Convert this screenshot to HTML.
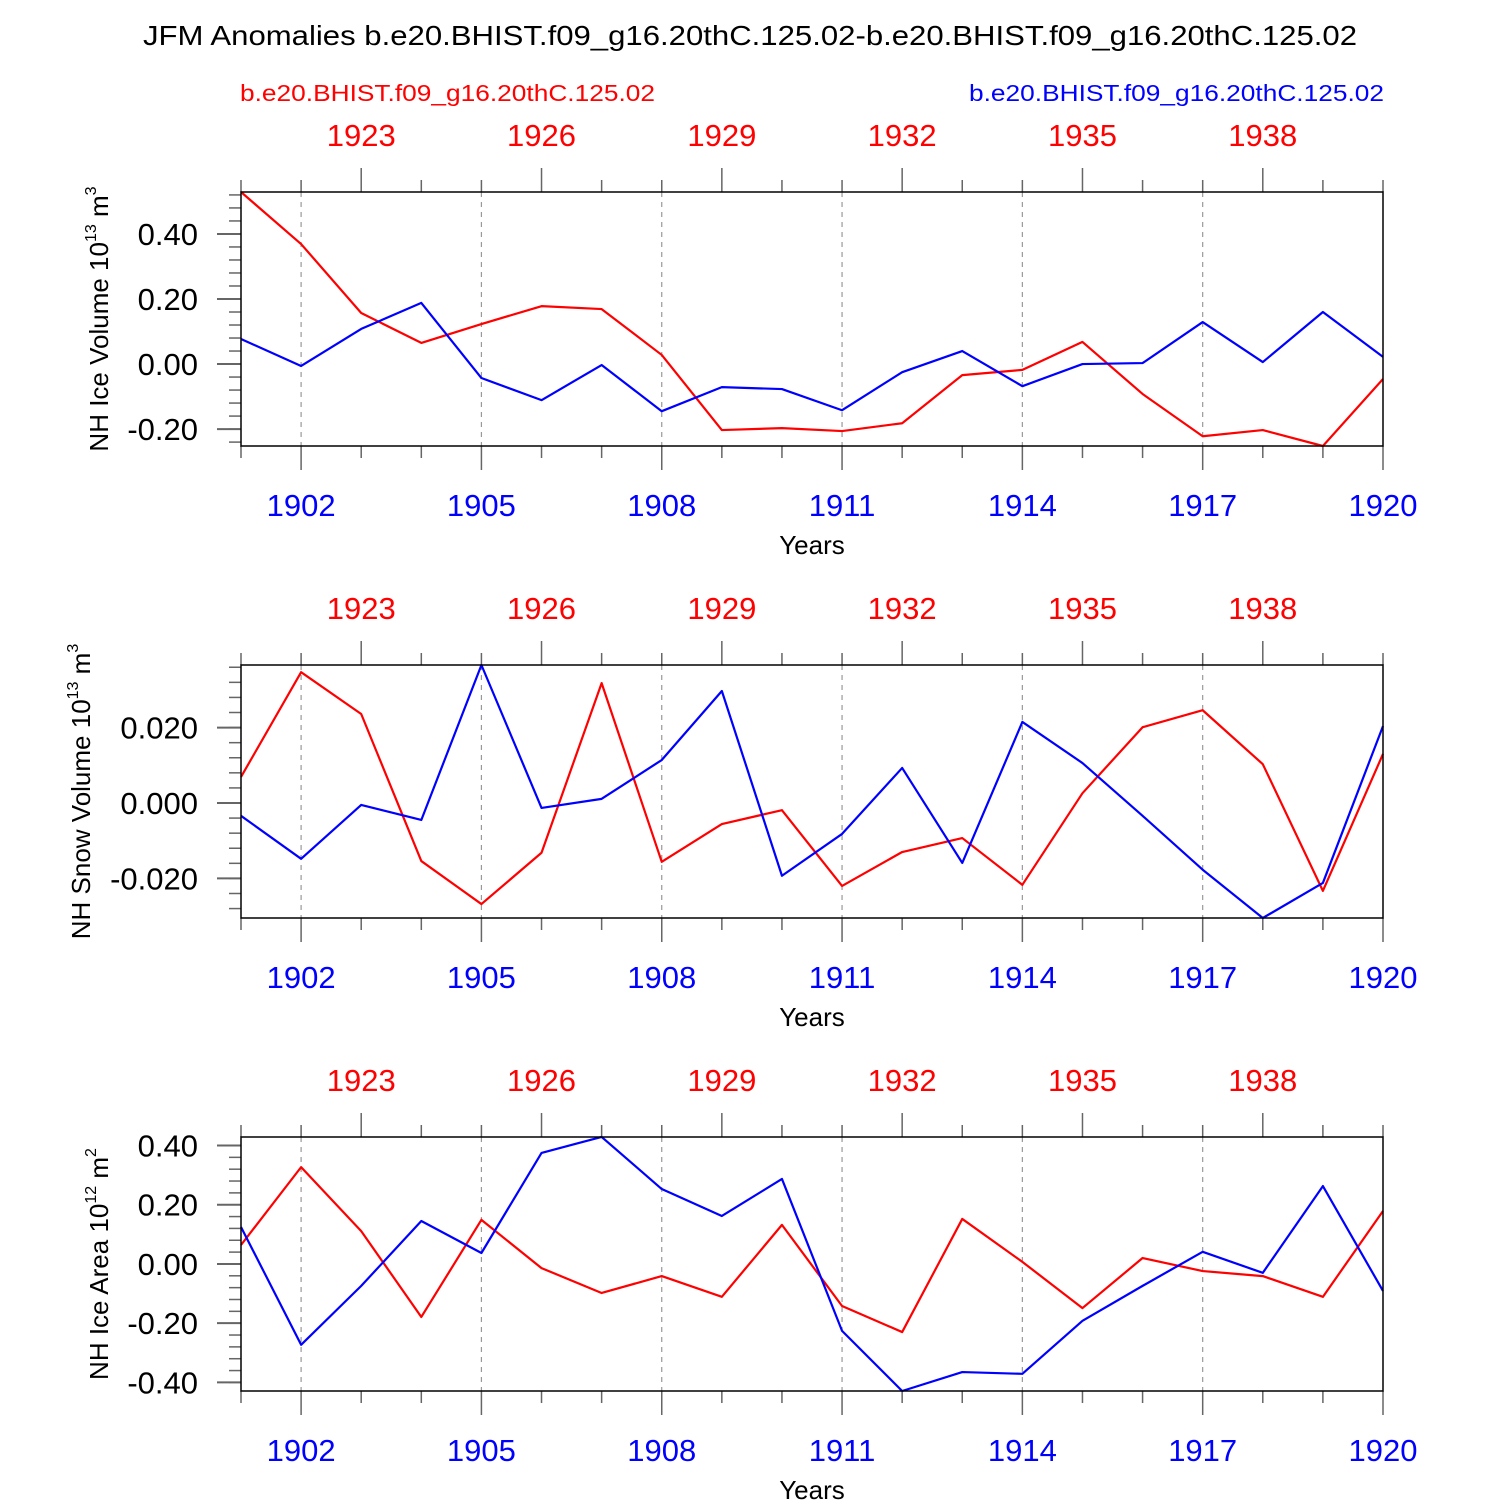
<!DOCTYPE html>
<html><head><meta charset="utf-8"><style>body{margin:0;background:#fff}svg{display:block}</style></head>
<body>
<svg id="chart" width="1500" height="1500" xmlns="http://www.w3.org/2000/svg" font-family="Liberation Sans, sans-serif">
<text x="143" y="45" textLength="1214" lengthAdjust="spacingAndGlyphs" font-size="28">JFM Anomalies b.e20.BHIST.f09_g16.20thC.125.02-b.e20.BHIST.f09_g16.20thC.125.02</text>
<text x="240" y="101" textLength="415" lengthAdjust="spacingAndGlyphs" font-size="23" fill="#f00">b.e20.BHIST.f09_g16.20thC.125.02</text>
<text x="969" y="101" textLength="415" lengthAdjust="spacingAndGlyphs" font-size="23" fill="#00f">b.e20.BHIST.f09_g16.20thC.125.02</text>
</svg>
<script>
const years=[1901,1902,1903,1904,1905,1906,1907,1908,1909,1910,1911,1912,1913,1914,1915,1916,1917,1918,1919,1920];
const topYears=[1921,1922,1923,1924,1925,1926,1927,1928,1929,1930,1931,1932,1933,1934,1935,1936,1937,1938,1939,1940];
const iceVolRed=[0.529,0.369,0.157,0.065,0.123,0.178,0.169,0.028,-0.203,-0.197,-0.206,-0.182,-0.034,-0.018,0.068,-0.092,-0.222,-0.203,-0.252,-0.046];
const iceVolBlue=[0.077,-0.006,0.108,0.188,-0.043,-0.111,-0.003,-0.145,-0.071,-0.077,-0.142,-0.025,0.040,-0.068,0,0.003,0.129,0.006,0.160,0.022];
const snowRed=[0.0069,0.0347,0.0236,-0.0154,-0.0268,-0.0132,0.0318,-0.0156,-0.0056,-0.0019,-0.0220,-0.0130,-0.0093,-0.0217,0.0026,0.0201,0.0246,0.0103,-0.0233,0.0130];
const snowBlue=[-0.0034,-0.0148,-0.0005,-0.0045,0.0366,-0.0013,0.0011,0.0114,0.0297,-0.0193,-0.0082,0.0093,-0.0159,0.0215,0.0106,-0.0034,-0.0177,-0.0305,-0.0212,0.0204];
const areaRed=[0.064,0.327,0.111,-0.179,0.149,-0.014,-0.098,-0.041,-0.111,0.132,-0.142,-0.230,0.152,0.007,-0.149,0.020,-0.024,-0.041,-0.111,0.179];
const areaBlue=[0.125,-0.273,-0.074,0.145,0.037,0.375,0.429,0.253,0.162,0.287,-0.226,-0.429,-0.365,-0.371,-0.192,-0.074,0.041,-0.030,0.263,-0.091];
const ticks1=[0.40,0.20,0.00,-0.20], ticks2=[0.020,0.000,-0.020], ticks3=[0.40,0.20,0.00,-0.20,-0.40];

const svg=document.getElementById('chart');
const NS='http://www.w3.org/2000/svg';
function mk(tag,attrs,parent){const e=document.createElementNS(NS,tag);for(const k in attrs)e.setAttribute(k,attrs[k]);(parent||svg).appendChild(e);return e;}
const X0=241,X1=1383;
const xs=y=>X0+(y-years[0])*(X1-X0)/(years[years.length-1]-years[0]);

function panel(top,bot,ymin,ymax,ticks,minorStep,dec,red,blue,label,sup,unit,pname){
  const g=mk('g',{});
  
  
  const ys=v=>bot-(v-ymin)*(bot-top)/(ymax-ymin);
  years.forEach((yr,i)=>{ if((yr-1902)%3===0 && yr>1901 && yr<1920){
    const l=mk('line',{x1:xs(yr),x2:xs(yr),y1:top,y2:bot,stroke:'#999','stroke-width':1.2,'stroke-dasharray':'5,5'},g);
    
    
  }});
  years.forEach((yr,i)=>{
    const maj=(yr-1902)%3===0;
    const L=maj?24:12;
    mk('line',{x1:xs(yr),x2:xs(yr),y1:bot,y2:bot+L,stroke:'#666','stroke-width':1.5},g);
    if(maj){const t=mk('text',{x:xs(yr),y:bot+70,'text-anchor':'middle','font-size':31,fill:'#00f'},g);t.textContent=yr;
      }
    const ty=topYears[i]; const tmaj=(ty-1923)%3===0;
    mk('line',{x1:xs(yr),x2:xs(yr),y1:top,y2:top-(tmaj?24:12),stroke:'#666','stroke-width':1.5},g);
    if(tmaj){const t=mk('text',{x:xs(yr),y:top-46,'text-anchor':'middle','font-size':31,fill:'#f00'},g);t.textContent=ty;
      }
  });
  const n0=Math.ceil(ymin/minorStep-1e-6), n1=Math.floor(ymax/minorStep+1e-6);
  for(let k=n0;k<=n1;k++){const v=k*minorStep;mk('line',{x1:X0-12,x2:X0,y1:ys(v),y2:ys(v),stroke:'#666','stroke-width':1.5},g);}
  ticks.forEach(v=>{
    mk('line',{x1:X0-24,x2:X0,y1:ys(v),y2:ys(v),stroke:'#666','stroke-width':2},g);
    const t=mk('text',{x:X0-43,y:ys(v)+11,'text-anchor':'end','font-size':31},g);
    t.textContent=(v<0?'-':'')+Math.abs(v).toFixed(dec);
    
  });
  [[red,'#f00','red-series'],[blue,'#00f','blue-series']].forEach(([d,c,nm])=>{
    const p=mk('polyline',{points:d.map((v,i)=>xs(years[i])+','+ys(v)).join(' '),fill:'none',stroke:c,'stroke-width':2.2,'stroke-linejoin':'round'},g);
    
  });
  const r=mk('rect',{x:X0,y:top,width:X1-X0,height:bot-top,fill:'none',stroke:'#000','stroke-width':1.5},g);
  
  const xt=mk('text',{x:812,y:bot+108,'text-anchor':'middle','font-size':26},g);xt.textContent='Years';
  
  const cy=(top+bot)/2;
  const yt=mk('text',{transform:`translate(${label[1]},${cy}) rotate(-90)`,'text-anchor':'middle','font-size':26},g);
  
  yt.innerHTML=`${label[0]} 10<tspan font-size="16" dy="-12">${sup}</tspan><tspan dy="12"> m</tspan><tspan font-size="16" dy="-12">${unit}</tspan>`;
}
panel(192,446,-0.252,0.529,ticks1,0.04,2,iceVolRed,iceVolBlue,['NH Ice Volume',108],'13','3','ice-volume-panel');
panel(665,918,-0.0305,0.0366,ticks2,0.004,3,snowRed,snowBlue,['NH Snow Volume',90],'13','3','snow-volume-panel');
panel(1137,1391,-0.429,0.4287,ticks3,0.04,2,areaRed,areaBlue,['NH Ice Area',108],'12','2','ice-area-panel');
</script>
</body></html>
